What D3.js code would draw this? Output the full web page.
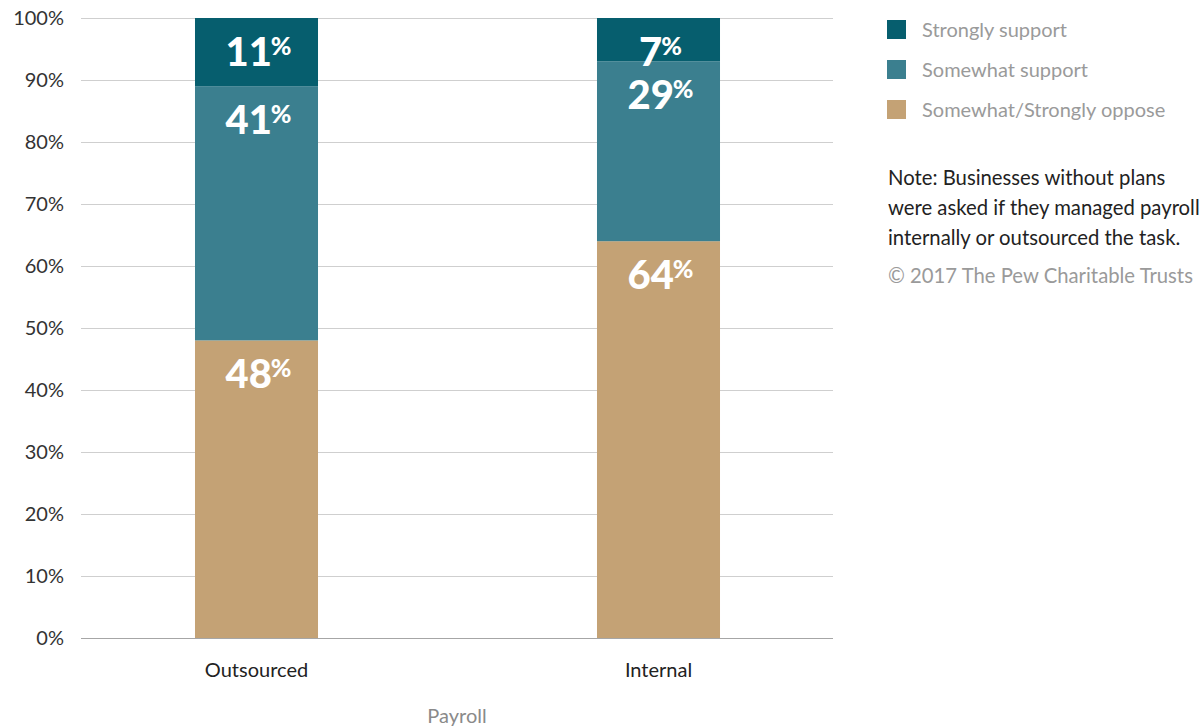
<!DOCTYPE html>
<html>
<head>
<meta charset="utf-8">
<script src="https://cdn.jsdelivr.net/npm/d3@7"></script>
<style>
  html, body { margin: 0; padding: 0; background: #fff; }
  svg { display: block; font-family: Lato, "Open Sans", sans-serif; }
</style>
</head>
<body>
<svg id="chart" width="1204" height="727"></svg>
<script>
// Payroll handling vs. support level (percent of businesses)
const categories = ["Outsourced", "Internal"];
const seriesNames = ["Somewhat/Strongly oppose", "Somewhat support", "Strongly support"];
const opposeValues = [48, 64];
const somewhatValues = [41, 29];
const stronglyValues = [11, 7];
const yTicks = [0, 10, 20, 30, 40, 50, 60, 70, 80, 90, 100];
const legendOrder = ["Strongly support", "Somewhat support", "Somewhat/Strongly oppose"];
const noteLines = [
  "Note: Businesses without plans",
  "were asked if they managed payroll",
  "internally or outsourced the task."
];
const credit = "\u00a9 2017 The Pew Charitable Trusts";
const xTitle = "Payroll";

const colors = {
  "Strongly support": "#065e6e",
  "Somewhat support": "#3b7f8f",
  "Somewhat/Strongly oppose": "#c4a275"
};

const svg = d3.select("#chart");

const gridLeft = 81, gridRight = 833;
const y = d3.scaleLinear().domain([0, 100]).range([638, 18]);
const x = d3.scaleBand()
  .domain(categories)
  .range([55.5, 859.5])
  .paddingInner(0.694)
  .paddingOuter(0.347);

// Gridlines
const grid = svg.append("g");
grid.selectAll("line")
  .data(yTicks)
  .join("line")
  .attr("x1", gridLeft)
  .attr("x2", gridRight)
  .attr("y1", d => Math.round(y(d)) + 0.5)
  .attr("y2", d => Math.round(y(d)) + 0.5)
  .attr("stroke", d => d === 0 ? "#a6a6a6" : "#cfcfcf")
  .attr("stroke-width", 1);

// Y axis labels
svg.append("g").selectAll("text")
  .data(yTicks)
  .join("text")
  .attr("x", 64)
  .attr("y", d => y(d))
  .attr("dy", "0.35em")
  .attr("text-anchor", "end")
  .attr("font-size", 20)
  .attr("fill", "#333")
  .text(d => d + "%");

// Stack the series
const rows = categories.map((c, i) => ({
  category: c,
  "Somewhat/Strongly oppose": opposeValues[i],
  "Somewhat support": somewhatValues[i],
  "Strongly support": stronglyValues[i]
}));
const stacked = d3.stack().keys(seriesNames)(rows);

const layers = svg.append("g").selectAll("g")
  .data(stacked)
  .join("g")
  .attr("fill", s => colors[s.key]);

layers.selectAll("rect")
  .data(s => s.map(d => ({ key: s.key, lo: d[0], hi: d[1], category: d.data.category })))
  .join("rect")
  .attr("x", d => x(d.category))
  .attr("width", x.bandwidth())
  .attr("y", d => y(d.hi))
  .attr("height", d => y(d.lo) - y(d.hi));

// Value labels inside each segment
const labels = svg.append("g");
stacked.forEach(s => {
  s.forEach(d => {
    const value = d[1] - d[0];
    const t = labels.append("text")
      .attr("x", x(d.data.category) + x.bandwidth() / 2 + 2)
      .attr("y", y(d[1]) + 48)
      .attr("text-anchor", "middle")
      .attr("fill", "#fff")
      .attr("font-weight", 900);
    t.append("tspan").attr("font-size", 40).text(value);
    t.append("tspan").attr("font-size", 25).attr("dx", -1).attr("dy", -11).text("%");
  });
});

// X axis category labels
svg.append("g").selectAll("text")
  .data(categories)
  .join("text")
  .attr("x", d => x(d) + x.bandwidth() / 2)
  .attr("y", 677)
  .attr("text-anchor", "middle")
  .attr("font-size", 20)
  .attr("fill", "#222")
  .text(d => d);

svg.append("text")
  .attr("x", 457)
  .attr("y", 723)
  .attr("text-anchor", "middle")
  .attr("font-size", 20)
  .attr("fill", "#8a8a8a")
  .text(xTitle);

// Legend
const legend = svg.append("g").selectAll("g")
  .data(legendOrder)
  .join("g")
  .attr("transform", (d, i) => `translate(887, ${20 + i * 40})`);
legend.append("rect")
  .attr("width", 19)
  .attr("height", 19)
  .attr("fill", d => colors[d]);
legend.append("text")
  .attr("x", 35)
  .attr("y", 10)
  .attr("dy", "0.35em")
  .attr("font-size", 20)
  .attr("fill", "#9a9a9a")
  .text(d => d);

// Note and credit
svg.append("g").selectAll("text")
  .data(noteLines)
  .join("text")
  .attr("x", 888)
  .attr("y", (d, i) => 185 + i * 30)
  .attr("font-size", 20.3)
  .attr("fill", "#222")
  .text(d => d);

svg.append("text")
  .attr("x", 888)
  .attr("y", 283)
  .attr("font-size", 20.3)
  .attr("fill", "#9a9a9a")
  .text(credit);
</script>
</body>
</html>
